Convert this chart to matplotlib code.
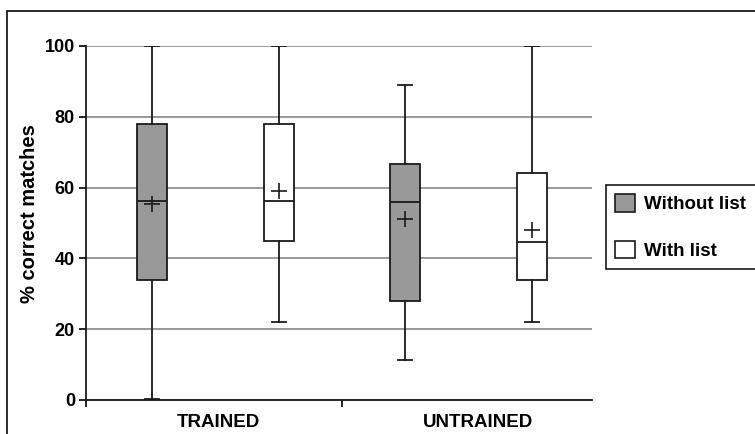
import matplotlib
matplotlib.use("Agg")
import matplotlib.pyplot as plt
from matplotlib.patches import Rectangle, Patch

plt.rcParams['font.family'] = ['Liberation Sans', 'DejaVu Sans']
plt.rcParams['font.weight'] = 'bold'

groups = ["TRAINED", "UNTRAINED"]
series = ["Without list", "With list"]
# order: TRAINED-without, TRAINED-with, UNTRAINED-without, UNTRAINED-with
whislo = [0.3, 22.1, 11.4, 22.1]
q1 = [33.9, 44.8, 28.1, 33.9]
med = [56.3, 56.1, 56.0, 44.6]
mean = [55.5, 59.0, 51.0, 48.0]
q3 = [77.9, 77.9, 66.6, 64.1]
whishi = [100.0, 100.0, 89.0, 100.0]
colors = ["#999999", "#ffffff", "#999999", "#ffffff"]
yticks = [0, 20, 40, 60, 80, 100]

fig = plt.figure(figsize=(7.55, 4.34), dpi=100)
ax = fig.add_axes([86/755, 1-400/434, (592-86)/755, (400-46)/434])

stats = []
for i in range(4):
    stats.append(dict(whislo=whislo[i], q1=q1[i], med=med[i], mean=mean[i],
                      q3=q3[i], whishi=whishi[i], fliers=[]))
positions = [0.25, 0.75, 1.25, 1.75]
bp = ax.bxp(stats, positions=positions, widths=0.119, capwidths=0.055,
            showmeans=True, patch_artist=True, zorder=3,
            boxprops=dict(edgecolor='#1a1a1a', linewidth=1.3),
            medianprops=dict(color='#1a1a1a', linewidth=1.3),
            whiskerprops=dict(color='#1a1a1a', linewidth=1.3),
            capprops=dict(color='#1a1a1a', linewidth=1.3),
            meanprops=dict(marker='+', markeredgecolor='#1a1a1a', markersize=11,
                           markeredgewidth=1.2))
for patch, c in zip(bp['boxes'], colors):
    patch.set_facecolor(c)

ax.set_xlim(-0.012, 1.988)
ax.set_ylim(0, 100)
ax.set_yticks(yticks)
ax.set_yticklabels([str(v) for v in yticks], fontsize=13, fontweight='bold')
ax.yaxis.grid(True, color='#999999', linewidth=1.4, zorder=0)
ax.set_axisbelow(True)
ax.tick_params(axis='y', direction='out', length=5, width=1.2, pad=3)

ax.set_xticks([-0.012, 1.0])
ax.set_xticklabels(['', ''])
ax.set_xticks([0.51, 1.537], minor=True)
ax.set_xticklabels(groups, minor=True, fontsize=13.5, fontweight='bold')
ax.tick_params(axis='x', which='major', direction='out', length=5, width=1.2)
ax.tick_params(axis='x', which='minor', length=0, pad=10)

for s in ['top', 'right']:
    ax.spines[s].set_visible(False)
for s in ['left', 'bottom']:
    ax.spines[s].set_linewidth(1.3)
    ax.spines[s].set_color('#1a1a1a')

ax.set_ylabel('% correct matches', fontsize=14.5, fontweight='bold')
ax.yaxis.set_label_coords(-0.111, 0.528)
ax.yaxis.label.set_verticalalignment('center')

handles = [Patch(facecolor=colors[0], edgecolor='#1a1a1a', linewidth=1.2),
           Patch(facecolor=colors[1], edgecolor='#1a1a1a', linewidth=1.2)]
leg = fig.legend(handles, series, loc='upper left',
                 bbox_to_anchor=(606/755, 1-185/434), prop=dict(size=13.5, weight='bold'),
                 handlelength=1.05, handleheight=1.05, handletextpad=0.5,
                 labelspacing=1.45, borderpad=0.5, borderaxespad=0, fancybox=False,
                 edgecolor='#1a1a1a', framealpha=1)
leg.get_frame().set_linewidth(1.2)

fig.patches.append(Rectangle((7/755, -0.1), 1.2, 1 - 11/434 + 0.1,
                             transform=fig.transFigure, fill=False,
                             edgecolor='#1a1a1a', linewidth=1.3))

fig.savefig('out.png', dpi=100)
